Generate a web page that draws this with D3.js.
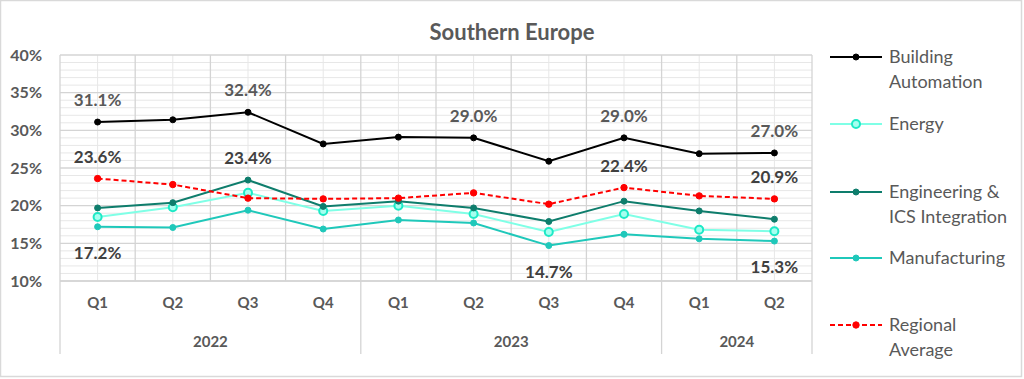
<!DOCTYPE html>
<html><head><meta charset="utf-8">
<script src="https://cdn.jsdelivr.net/npm/d3@7"></script>
<style>
html,body{margin:0;padding:0;background:#fff;}
svg{display:block;font-family:Lato,"Open Sans",sans-serif;}
</style></head><body>
<svg id="c" width="1024" height="379"></svg>
<script>
const quarters = ["Q1","Q2","Q3","Q4","Q1","Q2","Q3","Q4","Q1","Q2"];
const years = ["2022","2023","2024"];
const yearSpans = [4,4,2];
const yTicks = [10,15,20,25,30,35,40];
const buildingAutomation = [31.1,31.4,32.4,28.2,29.1,29.0,25.9,29.0,26.9,27.0];
const energy = [18.5,19.8,21.7,19.3,20.0,18.9,16.5,18.9,16.8,16.6];
const engineering = [19.7,20.4,23.4,19.9,20.6,19.7,17.9,20.6,19.3,18.2];
const manufacturing = [17.2,17.1,19.4,16.9,18.1,17.7,14.7,16.2,15.6,15.3];
const regionalAverage = [23.6,22.8,21.0,20.9,21.0,21.7,20.2,22.4,21.3,20.9];
const seriesNames = [["Building","Automation"],["Energy"],["Engineering &","ICS Integration"],["Manufacturing"],["Regional","Average"]];
// labels: [seriesIndex, pointIndex, position]
const dataLabels = [[0,0,"above"],[0,2,"above"],[0,5,"above"],[0,7,"above"],[0,9,"above"],
  [4,0,"above"],[2,2,"above"],[4,7,"above"],[4,9,"above"],
  [3,0,"below"],[3,6,"below"],[3,9,"below"]];

const series = [
  {name:seriesNames[0], values:buildingAutomation, color:"#000000", mfill:"#000000", mstroke:"#000000", r:3, dash:null, lc:"#595959"},
  {name:seriesNames[1], values:energy, color:"#7FFFE6", mfill:"#A6FFF0", mstroke:"#1DE9C6", r:4, dash:null, lc:"#404040"},
  {name:seriesNames[2], values:engineering, color:"#0E7D6C", mfill:"#0E7D6C", mstroke:"#0E7D6C", r:3, dash:null, lc:"#404040"},
  {name:seriesNames[3], values:manufacturing, color:"#1FC8BA", mfill:"#1FC8BA", mstroke:"#1FC8BA", r:3, dash:null, lc:"#404040"},
  {name:seriesNames[4], values:regionalAverage, color:"#FF0000", mfill:"#FF0000", mstroke:"#FF0000", r:3.2, dash:"5,3", lc:"#404040"}
];

const svg = d3.select("#c");
svg.append("rect").attr("x",0.5).attr("y",0.5).attr("width",1021).attr("height",376)
  .attr("fill","#fff").attr("stroke","#d9d9d9").attr("stroke-width",1.5);

const L=60, R=812, T=55, B=281;
const x = d3.scaleBand().domain(d3.range(quarters.length)).range([L,R]).padding(0);
const y = d3.scaleLinear().domain([10,40]).range([B,T]);
const g = svg.append("g");

const minorY = d3.range(10,41,1).filter(v=>v%5!==0);
g.selectAll(".myg").data(minorY).enter().append("line")
  .attr("x1",L).attr("x2",R).attr("y1",d=>y(d)).attr("y2",d=>y(d))
  .attr("stroke","#e7e7e7").attr("stroke-width",1);
g.selectAll(".mxg").data(d3.range(quarters.length)).enter().append("line")
  .attr("x1",d=>x(d)+x.bandwidth()/2).attr("x2",d=>x(d)+x.bandwidth()/2).attr("y1",T).attr("y2",B)
  .attr("stroke","#e7e7e7").attr("stroke-width",1);
g.selectAll(".Myg").data(yTicks).enter().append("line")
  .attr("x1",L).attr("x2",R).attr("y1",d=>y(d)).attr("y2",d=>y(d))
  .attr("stroke","#d4d4d4").attr("stroke-width",1.3);
g.selectAll(".Mxg").data(d3.range(quarters.length+1)).enter().append("line")
  .attr("x1",d=>L+d*x.bandwidth()).attr("x2",d=>L+d*x.bandwidth()).attr("y1",T).attr("y2",B)
  .attr("stroke","#d4d4d4").attr("stroke-width",1.3);

const yAxis = d3.axisLeft(y).tickValues(yTicks).tickFormat(d=>d+"%").tickSize(0).tickPadding(18);
const ya = svg.append("g").attr("transform",`translate(${L},0)`).call(yAxis);
ya.select(".domain").remove();
ya.selectAll("text").attr("fill","#595959").attr("font-size",16).attr("font-weight","bold")
  .attr("font-family","Lato,'Open Sans',sans-serif");

const xAxis = d3.axisBottom(x).tickFormat(i=>quarters[i]).tickSize(0).tickPadding(16);
const xa = svg.append("g").attr("transform",`translate(0,${B})`).call(xAxis);
xa.select(".domain").remove();
xa.selectAll("text").attr("fill","#595959").attr("font-size",15).attr("font-weight","bold")
  .attr("font-family","Lato,'Open Sans',sans-serif");
svg.append("line").attr("x1",L).attr("x2",R).attr("y1",B).attr("y2",B).attr("stroke","#d4d4d4").attr("stroke-width",1.3);
let cum=0; const bounds=[0];
yearSpans.forEach(s=>{cum+=s;bounds.push(cum);});
svg.selectAll(".ysep").data(bounds).enter().append("line")
  .attr("x1",d=>L+d*x.bandwidth()).attr("x2",d=>L+d*x.bandwidth()).attr("y1",B).attr("y2",354)
  .attr("stroke","#d4d4d4").attr("stroke-width",1.3);
svg.selectAll(".ylab").data(years).enter().append("text")
  .attr("x",(d,i)=>L+(bounds[i]+bounds[i+1])/2*x.bandwidth()).attr("y",347)
  .attr("text-anchor","middle").attr("fill","#595959").attr("font-size",15).attr("font-weight","bold")
  .text(d=>d);

svg.append("text").attr("x",512).attr("y",40).attr("text-anchor","middle")
  .attr("fill","#595959").attr("font-size",22).attr("font-weight","bold").text("Southern Europe");

const line = d3.line().x((d,i)=>x(i)+x.bandwidth()/2).y(d=>y(d));
const drawOrder=[1,3,2,4,0];
drawOrder.forEach(si=>{
  const s=series[si];
  svg.append("path").datum(s.values).attr("d",line).attr("fill","none")
    .attr("stroke",s.color).attr("stroke-width",2).attr("stroke-dasharray",s.dash);
  svg.selectAll(null).data(s.values).enter().append("circle")
    .attr("cx",(d,i)=>x(i)+x.bandwidth()/2).attr("cy",d=>y(d)).attr("r",s.r)
    .attr("fill",s.mfill).attr("stroke",s.mstroke).attr("stroke-width",s.r>=4?2:1);
});

dataLabels.forEach(([si,pi,pos])=>{
  const s=series[si]; const v=s.values[pi];
  svg.append("text").attr("x",x(pi)+x.bandwidth()/2)
    .attr("y",y(v)+(pos==="above"?-16:32)).attr("text-anchor","middle")
    .attr("fill",s.lc).attr("font-size",17).attr("font-weight","bold").text(v.toFixed(1)+"%");
});

const legY=[57,124,192,258,325];
series.forEach((s,i)=>{
  const gy=legY[i];
  svg.append("line").attr("x1",830).attr("x2",882).attr("y1",gy).attr("y2",gy)
    .attr("stroke",s.color).attr("stroke-width",2).attr("stroke-dasharray",s.dash);
  svg.append("circle").attr("cx",856).attr("cy",gy).attr("r",s.r)
    .attr("fill",s.mfill).attr("stroke",s.mstroke).attr("stroke-width",s.r>=4?2:1);
  s.name.forEach((t,j)=>{
    svg.append("text").attr("x",889).attr("y",gy+6+j*25).attr("fill","#595959")
      .attr("font-size",18).text(t);
  });
});
</script>
</body></html>
